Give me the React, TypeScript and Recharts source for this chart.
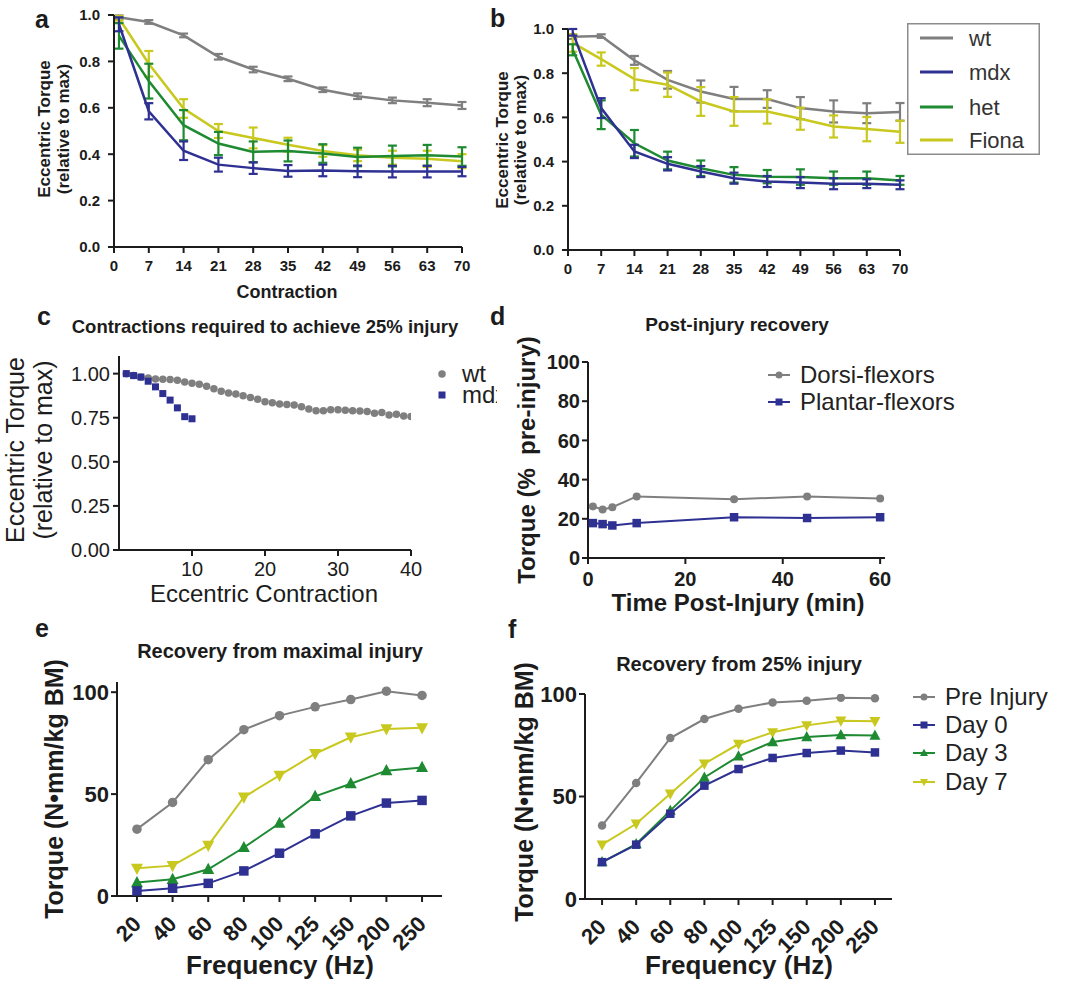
import React from 'react';
import { LineChart, Line, XAxis, YAxis, ErrorBar, Legend, ScatterChart, Scatter } from 'recharts';

const FONT = '"Liberation Sans", Arial, Helvetica, sans-serif';
const INK = '#1c1c1c';
const GRAY = '#7f7f7f';
const BLUE = '#2e3192';
const GREEN = '#1e8a32';
const YELLOW = '#c8c81e';

// ---- a / b : torque drop over 70 eccentric contractions ----
const contraction = [1, 7, 14, 21, 28, 35, 42, 49, 56, 63, 70];
const contractionTicks = [0, 7, 14, 21, 28, 35, 42, 49, 56, 63, 70];
const torqueTicks = [0, 0.2, 0.4, 0.6, 0.8, 1];
const abNames = ['wt', 'mdx', 'het', 'Fiona'];

const aWt = [0.99, 0.97, 0.912, 0.82, 0.765, 0.725, 0.678, 0.65, 0.632, 0.622, 0.61];
const aWtErr = [0.008, 0.008, 0.008, 0.012, 0.012, 0.01, 0.01, 0.012, 0.012, 0.015, 0.015];
const aMdx = [0.96, 0.585, 0.415, 0.355, 0.34, 0.328, 0.33, 0.326, 0.325, 0.325, 0.325];
const aMdxErr = [0.03, 0.035, 0.04, 0.03, 0.025, 0.025, 0.025, 0.025, 0.025, 0.025, 0.02];
const aHet = [0.91, 0.715, 0.525, 0.446, 0.41, 0.414, 0.403, 0.388, 0.392, 0.395, 0.39];
const aHetErr = [0.055, 0.075, 0.065, 0.05, 0.045, 0.045, 0.04, 0.04, 0.045, 0.045, 0.04];
const aFiona = [0.986, 0.79, 0.597, 0.5, 0.47, 0.441, 0.414, 0.395, 0.385, 0.38, 0.37];
const aFionaErr = [0.01, 0.055, 0.04, 0.03, 0.045, 0.03, 0.025, 0.025, 0.03, 0.035, 0.03];

const bWt = [0.965, 0.968, 0.858, 0.77, 0.717, 0.683, 0.683, 0.642, 0.627, 0.619, 0.625];
const bWtErr = [0.01, 0.008, 0.02, 0.04, 0.05, 0.055, 0.04, 0.05, 0.05, 0.045, 0.04];
const bMdx = [0.985, 0.642, 0.446, 0.39, 0.355, 0.325, 0.31, 0.305, 0.3, 0.3, 0.295];
const bMdxErr = [0.015, 0.045, 0.03, 0.03, 0.025, 0.025, 0.025, 0.025, 0.025, 0.02, 0.02];
const bHet = [0.906, 0.612, 0.483, 0.405, 0.37, 0.34, 0.332, 0.33, 0.325, 0.325, 0.315];
const bHetErr = [0.025, 0.065, 0.06, 0.04, 0.035, 0.035, 0.03, 0.035, 0.03, 0.03, 0.02];
const bFiona = [0.937, 0.864, 0.773, 0.748, 0.672, 0.627, 0.627, 0.594, 0.559, 0.547, 0.535];
const bFionaErr = [0.04, 0.03, 0.05, 0.055, 0.065, 0.065, 0.055, 0.05, 0.05, 0.055, 0.05];

// ---- c : contractions to 25% injury ----
const cWtX = [1, 2, 3, 4, 5, 6, 7, 8, 9, 10, 11, 12, 13, 14, 15, 16, 17, 18, 19, 20, 21, 22, 23, 24, 25, 26, 27, 28, 29, 30, 31, 32, 33, 34, 35, 36, 37, 38, 39, 40];
const cWt = [1.0, 0.99, 0.98, 0.975, 0.97, 0.968, 0.967, 0.962, 0.952, 0.946, 0.94, 0.928, 0.915, 0.9, 0.89, 0.885, 0.875, 0.865, 0.855, 0.84, 0.835, 0.828, 0.825, 0.822, 0.812, 0.8, 0.79, 0.79, 0.795, 0.795, 0.792, 0.79, 0.788, 0.785, 0.775, 0.78, 0.765, 0.77, 0.76, 0.757];
const cMdxX = [1, 2, 3, 4, 5, 6, 7, 8, 9, 10];
const cMdx = [1.0, 0.989, 0.981, 0.957, 0.925, 0.887, 0.85, 0.806, 0.756, 0.744];

// ---- d : post-injury recovery ----
const dTime = [1, 3, 5, 10, 30, 45, 60];
const dDorsi = [26.3, 24.8, 25.9, 31.4, 30, 31.4, 30.4];
const dPlantar = [17.8, 17.3, 16.6, 17.8, 20.8, 20.4, 20.8];

// ---- e / f : force-frequency ----
const freqLabels = ['20', '40', '60', '80', '100', '125', '150', '200', '250'];
const dayNames = ['Pre Injury', 'Day 0', 'Day 3', 'Day 7'];
const ePre = [32.8, 45.9, 66.9, 81.6, 88.5, 92.8, 96.4, 100.5, 98.4];
const eDay0 = [2.5, 3.8, 6.2, 12.3, 21, 30.5, 39.3, 45.6, 46.9];
const eDay3 = [6.6, 8.2, 13.1, 23.8, 35.7, 48.9, 55.1, 61.5, 63.1];
const eDay7 = [13.6, 14.9, 24.8, 48.5, 59.2, 69.8, 77.9, 82, 82.5];
const fPre = [35.8, 56.6, 78.5, 87.8, 92.8, 95.9, 96.7, 98.2, 97.9];
const fDay0 = [18, 26.5, 41.6, 55.3, 63.4, 68.8, 71.2, 72.4, 71.5];
const fDay3 = [18, 26.8, 43.1, 59.3, 69.6, 76.6, 79, 80, 79.7];
const fDay7 = [26.5, 36.7, 51.4, 66, 75.6, 81.3, 84.7, 87, 86.7];

const abSeries = [
  { key: 'wt', color: GRAY },
  { key: 'fiona', color: YELLOW },
  { key: 'het', color: GREEN },
  { key: 'mdx', color: BLUE },
];
const abColors = [GRAY, BLUE, GREEN, YELLOW];

const daySeries = [
  { key: 'pre', color: GRAY, shape: 'circle' },
  { key: 'd7', color: YELLOW, shape: 'down' },
  { key: 'd3', color: GREEN, shape: 'up' },
  { key: 'd0', color: BLUE, shape: 'square' },
];
const dayLegend = [
  { color: GRAY, shape: 'circle' },
  { color: BLUE, shape: 'square' },
  { color: GREEN, shape: 'up' },
  { color: YELLOW, shape: 'down' },
];

const abRows = (v: number[][], e: number[][]) =>
  contraction.map((x, i) => ({
    x,
    wt: v[0][i], wtE: e[0][i],
    mdx: v[1][i], mdxE: e[1][i],
    het: v[2][i], hetE: e[2][i],
    fiona: v[3][i], fionaE: e[3][i],
  }));

const aRows = abRows([aWt, aMdx, aHet, aFiona], [aWtErr, aMdxErr, aHetErr, aFionaErr]);
const bRows = abRows([bWt, bMdx, bHet, bFiona], [bWtErr, bMdxErr, bHetErr, bFionaErr]);
const cWtData = cWtX.map((x, i) => ({ x, y: cWt[i] }));
const cMdxData = cMdxX.map((x, i) => ({ x, y: cMdx[i] }));
const dRows = dTime.map((x, i) => ({ x, dorsi: dDorsi[i], plantar: dPlantar[i] }));
const freqRows = (pre: number[], d0: number[], d3: number[], d7: number[]) =>
  freqLabels.map((_, i) => ({ i, pre: pre[i], d0: d0[i], d3: d3[i], d7: d7[i] }));
const eRows = freqRows(ePre, eDay0, eDay3, eDay7);
const fRows = freqRows(fPre, fDay0, fDay3, fDay7);
const freqTicks = freqLabels.map((_, i) => i);

const axisLine = { stroke: INK, strokeWidth: 2 };
const tickStyle = (size: number, weight: number) => ({ fill: INK, fontSize: size, fontWeight: weight, fontFamily: FONT });

function TextLabel(props: any) {
  const { tx, ty, lines, size, weight, rot, gap = 0 } = props;
  return (
    <text
      x={tx}
      y={ty}
      transform={rot ? `rotate(-90 ${tx} ${ty})` : undefined}
      textAnchor="middle"
      fontSize={size}
      fontWeight={weight}
      fontFamily={FONT}
      fill={INK}
    >
      {lines.map((l: string, i: number) => (
        <tspan key={i} x={tx} dy={i === 0 ? 0 : gap}>{l}</tspan>
      ))}
    </text>
  );
}

function Marker({ shape, cx, cy, size, color }: any) {
  if (cx == null || cy == null) return null;
  const h = size / 2;
  if (shape === 'square') return <rect x={cx - h} y={cy - h} width={size} height={size} fill={color} />;
  if (shape === 'up')
    return <polygon points={`${cx},${cy - size * 0.6} ${cx - h - 0.5},${cy + size * 0.42} ${cx + h + 0.5},${cy + size * 0.42}`} fill={color} />;
  if (shape === 'down')
    return <polygon points={`${cx},${cy + size * 0.6} ${cx - h - 0.5},${cy - size * 0.42} ${cx + h + 0.5},${cy - size * 0.42}`} fill={color} />;
  return <circle cx={cx} cy={cy} r={h} fill={color} />;
}

const dotFn = (shape: string, size: number, color: string) => (p: any) =>
  <Marker key={`m-${p.index}`} shape={shape} cx={p.cx} cy={p.cy} size={size} color={color} />;

const FreqTick = (props: any) => {
  const { x, y, payload } = props;
  const ay = y + 16;
  return (
    <text x={x} y={ay} transform={`rotate(-45 ${x} ${ay})`} textAnchor="end" dy="0.35em" fontSize={22} fontWeight={700} fontFamily={FONT} fill={INK}>
      {freqLabels[payload.value]}
    </text>
  );
};

const BLegend = () => (
  <svg width={133} height={132}>
    <rect x={0.75} y={0.75} width={131.5} height={130.5} fill="#fff" stroke="#8c8c8c" strokeWidth={1.5} />
    {abNames.map((n, i) => {
      const y = [15, 49, 84, 117][i];
      return (
        <g key={n}>
          <line x1={13} x2={46} y1={y} y2={y} stroke={abColors[i]} strokeWidth={3} />
          <text x={62} y={y + 8} fontSize={22} fontFamily={FONT} fill="#333">{n}</text>
        </g>
      );
    })}
  </svg>
);

const CLegend = () => (
  <svg width={80} height={46}>
    <Marker shape="circle" cx={12} cy={12} size={7.5} color={GRAY} />
    <text x={32} y={20} fontSize={24} fontFamily={FONT} fill="#222">wt</text>
    <Marker shape="square" cx={12} cy={33} size={7} color={BLUE} />
    <text x={32} y={41} fontSize={24} fontFamily={FONT} fill="#222">mdx</text>
  </svg>
);

const LineLegend = ({ items, rows, names, size, width }: any) => (
  <svg width={width} height={120}>
    {names.map((n: string, i: number) => (
      <g key={n}>
        <line x1={8} x2={30} y1={rows[i]} y2={rows[i]} stroke={items[i].color} strokeWidth={2} />
        <Marker shape={items[i].shape} cx={19} cy={rows[i]} size={size} color={items[i].color} />
        <text x={40} y={rows[i] + 8} fontSize={24} fontFamily={FONT} fill="#222">{n}</text>
      </g>
    ))}
  </svg>
);

function ContractionChart({ rows, width, margin, yWidth, xHeight, xLabel, yLabel, legend }: any) {
  return (
    <LineChart width={width} height={310} data={rows} margin={margin}>
      <XAxis
        type="number"
        dataKey="x"
        domain={[0, 70]}
        ticks={contractionTicks}
        interval={0}
        allowDataOverflow
        height={xHeight}
        tickSize={6}
        tickMargin={7}
        axisLine={axisLine}
        tickLine={axisLine}
        tick={tickStyle(15, 700)}
        label={xLabel}
      />
      <YAxis
        type="number"
        domain={[0, 1]}
        ticks={torqueTicks}
        interval={0}
        allowDataOverflow
        width={yWidth}
        tickSize={6}
        tickMargin={8}
        axisLine={axisLine}
        tickLine={axisLine}
        tick={tickStyle(15, 700)}
        tickFormatter={(v: number) => v.toFixed(1)}
        label={yLabel}
      />
      {abSeries.map((s) => (
        <Line key={s.key} type="linear" dataKey={s.key} stroke={s.color} strokeWidth={2.5} dot={false} isAnimationActive={false}>
          <ErrorBar dataKey={`${s.key}E`} width={4.5} strokeWidth={2.2} stroke={s.color} direction="y" isAnimationActive={false} />
        </Line>
      ))}
      {legend}
    </LineChart>
  );
}

function FreqChart({ rows, width, margin, yWidth, xHeight, yDomain, xDomain, yLabel, xLabel, legend, mk }: any) {
  return (
    <LineChart width={width} height={372} data={rows} margin={margin}>
      <XAxis
        type="number"
        dataKey="i"
        domain={xDomain}
        ticks={freqTicks}
        interval={0}
        allowDataOverflow
        height={xHeight}
        tickSize={6}
        tickMargin={2}
        axisLine={axisLine}
        tickLine={axisLine}
        tick={(p: any) => <FreqTick {...p} />}
        label={xLabel}
      />
      <YAxis
        type="number"
        domain={yDomain}
        ticks={[0, 50, 100]}
        interval={0}
        allowDataOverflow
        width={yWidth}
        tickSize={6}
        tickMargin={2}
        axisLine={axisLine}
        tickLine={axisLine}
        tick={tickStyle(22, 700)}
        label={yLabel}
      />
      {daySeries.map((s) => (
        <Line
          key={s.key}
          type="linear"
          dataKey={s.key}
          stroke={s.color}
          strokeWidth={2}
          dot={dotFn(s.shape, s.shape === 'circle' || s.shape === 'square' ? mk : mk + 1.5, s.color)}
          isAnimationActive={false}
        />
      ))}
      {legend}
    </LineChart>
  );
}

export default function App() {
  return (
    <div style={{ position: 'absolute', left: 0, top: 0, width: 1065, height: 982, background: '#fff', overflow: 'hidden', fontFamily: FONT }}>
      {/* a */}
      <div style={{ position: 'absolute', left: 0, top: 0 }}>
        <ContractionChart
          rows={aRows}
          width={480}
          margin={{ top: 15, right: 18, bottom: 0, left: 0 }}
          yWidth={114}
          xHeight={63}
          xLabel={<TextLabel tx={287} ty={298} lines={['Contraction']} size={18} weight={700} />}
          yLabel={<TextLabel rot tx={50} ty={129} gap={19} lines={['Eccentric Torque', '(relative to max)']} size={17} weight={700} />}
        />
      </div>

      {/* b */}
      <div style={{ position: 'absolute', left: 480, top: 0 }}>
        <ContractionChart
          rows={bRows}
          width={585}
          margin={{ top: 29, right: 165, bottom: 0, left: 0 }}
          yWidth={88}
          xHeight={60}
          yLabel={<TextLabel rot tx={28} ty={140} gap={18} lines={['Eccentric Torque', '(relative to max)']} size={17} weight={700} />}
          legend={
            <Legend
              layout="horizontal"
              verticalAlign="middle"
              align="center"
              wrapperStyle={{ left: 427, top: 23, width: 133, height: 132 }}
              content={() => <BLegend />}
            />
          }
        />
      </div>

      {/* c */}
      <div style={{ position: 'absolute', left: 0, top: 300, width: 497, height: 315, overflow: 'hidden' }}>
        <ScatterChart width={497} height={315} margin={{ top: 56, right: 86, bottom: 0, left: 0 }}>
          <XAxis
            type="number"
            dataKey="x"
            domain={[0, 40]}
            ticks={[10, 20, 30, 40]}
            interval={0}
            allowDataOverflow
            height={65}
            tickSize={6}
            tickMargin={6}
            axisLine={axisLine}
            tickLine={axisLine}
            tick={tickStyle(20, 400)}
            label={<TextLabel tx={264} ty={302} lines={['Eccentric Contraction']} size={24} weight={400} />}
          />
          <YAxis
            type="number"
            dataKey="y"
            domain={[0, 1.1]}
            ticks={[0, 0.25, 0.5, 0.75, 1]}
            interval={0}
            allowDataOverflow
            width={119}
            tickSize={6}
            tickMargin={3}
            axisLine={axisLine}
            tickLine={axisLine}
            tick={tickStyle(20, 400)}
            tickFormatter={(v: number) => v.toFixed(2)}
            label={<TextLabel rot tx={24} ty={150} gap={28} lines={['Eccentric Torque', '(relative to max)']} size={25} weight={400} />}
          />
          <Scatter data={cWtData} isAnimationActive={false} shape={(p: any) => <Marker shape="circle" cx={p.cx} cy={p.cy} size={7.5} color={GRAY} />} />
          <Scatter data={cMdxData} isAnimationActive={false} shape={(p: any) => <Marker shape="square" cx={p.cx} cy={p.cy} size={7} color={BLUE} />} />
          <Legend
            layout="horizontal"
            verticalAlign="middle"
            align="center"
            wrapperStyle={{ left: 430, top: 62, width: 80, height: 46 }}
            content={() => <CLegend />}
          />
        </ScatterChart>
      </div>

      {/* d */}
      <div style={{ position: 'absolute', left: 480, top: 300 }}>
        <LineChart width={585} height={320} data={dRows} margin={{ top: 62, right: 180, bottom: 0, left: 0 }}>
          <XAxis
            type="number"
            dataKey="x"
            domain={[0, 61]}
            ticks={[0, 20, 40, 60]}
            interval={0}
            allowDataOverflow
            height={62}
            tickSize={6}
            tickMargin={8}
            axisLine={axisLine}
            tickLine={axisLine}
            tick={tickStyle(20, 700)}
            label={<TextLabel tx={258} ty={311} lines={['Time Post-Injury (min)']} size={24} weight={700} />}
          />
          <YAxis
            type="number"
            domain={[0, 100]}
            ticks={[0, 20, 40, 60, 80, 100]}
            interval={0}
            allowDataOverflow
            width={108}
            tickSize={6}
            tickMargin={2}
            axisLine={axisLine}
            tickLine={axisLine}
            tick={tickStyle(20, 700)}
            label={<TextLabel rot tx={55} ty={160} lines={['Torque (%\u00a0 pre-injury)']} size={24} weight={700} />}
          />
          <Line type="linear" dataKey="dorsi" stroke={GRAY} strokeWidth={2} dot={dotFn('circle', 8, GRAY)} isAnimationActive={false} />
          <Line type="linear" dataKey="plantar" stroke={BLUE} strokeWidth={2} dot={dotFn('square', 8.5, BLUE)} isAnimationActive={false} />
          <Legend
            layout="horizontal"
            verticalAlign="middle"
            align="center"
            wrapperStyle={{ left: 280, top: 60, width: 200, height: 60 }}
            content={() => (
              <LineLegend
                items={[{ color: GRAY, shape: 'circle' }, { color: BLUE, shape: 'square' }]}
                rows={[15, 42]}
                names={['Dorsi-flexors', 'Plantar-flexors']}
                size={7}
                width={200}
              />
            )}
          />
        </LineChart>
      </div>

      {/* e */}
      <div style={{ position: 'absolute', left: 0, top: 610 }}>
        <FreqChart
          rows={eRows}
          width={480}
          margin={{ top: 72, right: 38, bottom: 0, left: 0 }}
          yWidth={117}
          xHeight={86}
          yDomain={[0, 105]}
          xDomain={[-0.56, 8.56]}
          mk={9.5}
          xLabel={<TextLabel tx={280} ty={364} lines={['Frequency (Hz)']} size={26} weight={700} />}
          yLabel={<TextLabel rot tx={63} ty={179} lines={['Torque (N\u2022mm/kg BM)']} size={25} weight={700} />}
        />
      </div>

      {/* f */}
      <div style={{ position: 'absolute', left: 480, top: 610 }}>
        <FreqChart
          rows={fRows}
          width={585}
          margin={{ top: 84, right: 173, bottom: 0, left: 0 }}
          yWidth={105}
          xHeight={83}
          yDomain={[0, 100]}
          xDomain={[-0.5, 8.5]}
          mk={8.5}
          xLabel={<TextLabel tx={259} ty={364} lines={['Frequency (Hz)']} size={26} weight={700} />}
          yLabel={<TextLabel rot tx={53} ty={182} lines={['Torque (N\u2022mm/kg BM)']} size={25} weight={700} />}
          legend={
            <Legend
              layout="horizontal"
              verticalAlign="middle"
              align="center"
              wrapperStyle={{ left: 425, top: 75, width: 155, height: 115 }}
              content={() => <LineLegend items={dayLegend} rows={[12, 40, 68, 97]} names={dayNames} size={7} width={155} />}
            />
          }
        />
      </div>

      {/* panel letters and titles */}
      <svg width={1065} height={982} style={{ position: 'absolute', left: 0, top: 0, pointerEvents: 'none' }}>
        <g fontFamily={FONT} fontWeight={700} fill={INK} fontSize={25}>
          <text x={35} y={28}>a</text>
          <text x={490} y={27}>b</text>
          <text x={37} y={325}>c</text>
          <text x={490} y={325}>d</text>
          <text x={35} y={637}>e</text>
          <text x={508} y={638}>f</text>
        </g>
        <g fontFamily={FONT} fontWeight={700} fill={INK} textAnchor="middle">
          <text x={265} y={333} fontSize={18.5}>Contractions required to achieve 25% injury</text>
          <text x={737} y={331} fontSize={19}>Post-injury recovery</text>
          <text x={280} y={658} fontSize={20}>Recovery from maximal injury</text>
          <text x={739} y={671} fontSize={20}>Recovery from 25% injury</text>
        </g>
      </svg>
    </div>
  );
}
